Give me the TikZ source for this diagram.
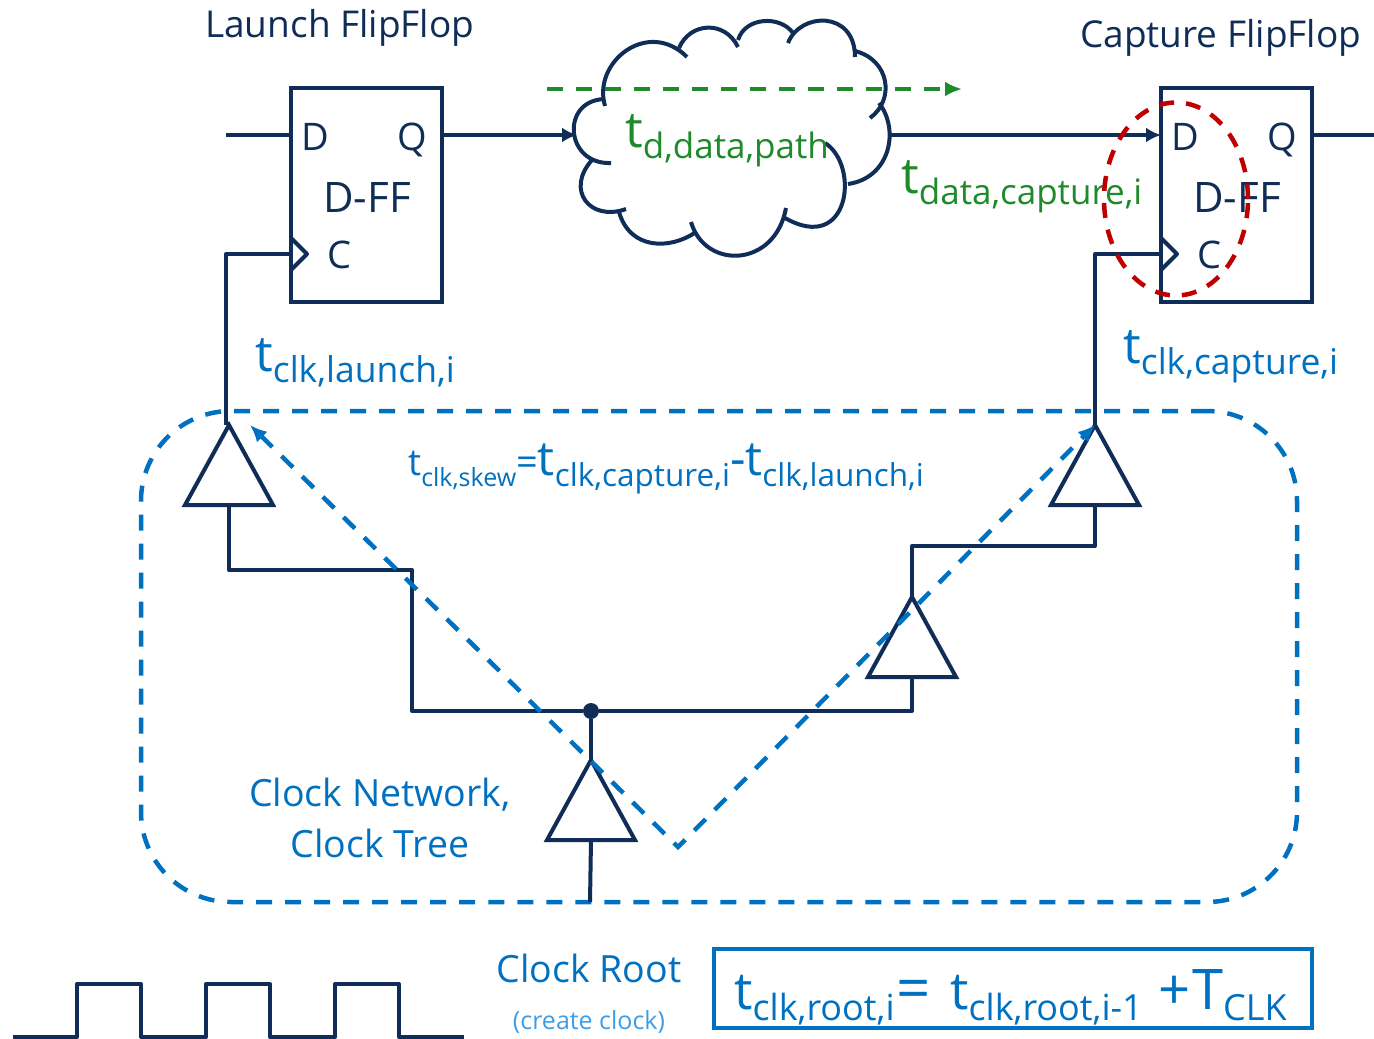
\documentclass[tikz,border=0pt]{standalone}
\usepackage{fontspec}
\setmainfont{Open Sans}
\usetikzlibrary{arrows.meta,shapes.geometric}
\definecolor{navy}{HTML}{0F2D56}
\definecolor{clkblue}{HTML}{0070C0}
\definecolor{datagreen}{HTML}{1E8A2A}
\definecolor{ringred}{HTML}{C00000}
\definecolor{paleblue}{HTML}{3C9DE8}
\newcommand{\fs}[1]{\fontsize{#1}{#1}\selectfont}
\newcommand{\tlab}[3]{{\fs{#1}t}{\fs{#2}\raisebox{-11pt}{#3}}}
\begin{document}
\begin{tikzpicture}[x=1pt,y=-1pt,%
% common options for lines:
wire/.style = {draw=navy, line width=4pt, line join=round},
arrowed/.style = {wire, -{Latex[length=15pt,width=15pt]}},
skewline/.style = {draw=clkblue, line width=4.5pt, dash pattern=on 16pt off 13pt},
% common options for blocks:
flop/.style = {draw=navy, line width=4pt, minimum width=151pt, minimum height=214pt, anchor=north west, inner sep=0, outer sep=0},
buffer/.style = {draw=navy, line width=4pt, isosceles triangle, shape border rotate=90, isosceles triangle stretches,
            minimum width=88pt, minimum height=80pt, anchor=apex, inner sep=0, outer sep=0},
% common options for the texts:
pin/.style = {text=navy, anchor=base west, inner sep=0, font=\fs{38}},
head/.style = {text=navy, anchor=base west, inner sep=0, font=\fs{37}},
clktext/.style = {text=clkblue, anchor=base west, inner sep=0},
datatext/.style = {text=datagreen, anchor=base west, inner sep=0}]
\useasboundingbox (0,0) rectangle (1374,1039);
% clock network frame
\node[skewline, rounded corners=90pt, minimum width=1156pt, minimum height=491pt, anchor=north west, inner sep=0, outer sep=0] (NET) at (141,411) {};
% flipflops
\node[flop] (FF1) at (291,88) {};
\node[flop] (FF2) at (1161,88) {};
\node[head] (H1) at (205,37) {Launch FlipFlop};
\node[head] (H2) at (1080,47) {Capture FlipFlop};
\node[pin] (D1) at (301,150) {D};
\node[pin] (Q1) at (397,150) {Q};
\node[pin, font=\fs{42}] (F1) at (323,212) {D-FF};
\node[pin] (C1) at (327,268) {C};
\node[pin] (D2) at (1171,150) {D};
\node[pin] (Q2) at (1267,150) {Q};
\node[pin, font=\fs{42}] (F2) at (1193,212) {D-FF};
\node[pin] (C2) at (1197,268) {C};
\coordinate (D1in) at (291,135);
\coordinate (Q1out) at (442,135);
\coordinate (C1in) at (291,254);
\coordinate (D2in) at (1161,135);
\coordinate (Q2out) at (1312,135);
\coordinate (C2in) at (1161,254);
% clock pins
\draw[wire] (291,238) -- (307,254) -- (291,270);
\draw[wire] (1161,238) -- (1177,254) -- (1161,270);
% cloud
\draw[wire] (605,106) .. controls (592,62) and (648,18) .. (687,57);
\draw[wire] (679,48) .. controls (690,22) and (725,20) .. (738,47);
\draw[wire] (738,40) .. controls (745,17) and (780,15) .. (793,33);
\draw[wire] (788,43) .. controls (800,12) and (855,10) .. (855,57);
\draw[wire] (855,51) .. controls (890,60) and (895,100) .. (870,118);
\draw[wire] (879,103) .. controls (900,130) and (890,178) .. (848,184);
\draw[wire] (825,143) .. controls (860,165) and (850,255) .. (785,218);
\draw[wire] (786,208) .. controls (775,268) and (705,270) .. (691,222);
\draw[wire] (696,232) .. controls (670,250) and (630,250) .. (619,212);
\draw[wire] (626,209) .. controls (590,222) and (565,190) .. (592,160);
\draw[wire] (611,163) .. controls (565,165) and (560,100) .. (605,99);
\coordinate (CLw) at (577,135);
\coordinate (CLe) at (891,135);
% data wires
\coordinate (DIN) at (226,135);
\coordinate (DOUT) at (1374,135);
\draw[wire] (DIN) -- (D1in);
\draw[arrowed] (Q1out) -- (CLw);
\draw[arrowed] (CLe) -- (D2in);
\draw[wire] (Q2out) -- (DOUT);
% buffers
\node[buffer] (B1) at (229,425) {};
\node[buffer] (B2) at (1095,425) {};
\node[buffer] (B3) at (912,597) {};
\node[buffer] (B4) at (591,760) {};
\node[circle, fill=navy, minimum size=16pt, inner sep=0] (J) at (591,711) {};
\coordinate (ROOT) at (590,902);
\coordinate (N1) at (226,425);
% clock wires
\draw[wire] (C1in) -- (226,254) -- (N1);
\draw[wire] (C2in) -- (1095,254) -- (B2.apex);
\draw[wire] (B1.lower side) -- (229,570) -- (412,570) -- (412,711) -- (J);
\draw[wire] (J) -- (912,711) -- (B3.lower side);
\draw[wire] (B3.apex) -- (912,546) -- (1095,546) -- (B2.lower side);
\draw[wire] (J) -- (B4.apex);
\draw[wire] (B4.lower side) -- (ROOT);
% paths
\coordinate (GA) at (547,89);
\coordinate (GB) at (962,89);
\draw[draw=datagreen, line width=4.5pt, dash pattern=on 16pt off 13pt, -{Latex[length=17pt,width=15pt]}] (GA) -- (GB);
\coordinate (V0) at (250,425);
\coordinate (V1) at (678,847);
\coordinate (V2) at (1095,425);
\draw[skewline, {Latex[length=17pt,width=15pt]}-{Latex[length=17pt,width=15pt]}] (V0) -- (V1) -- (V2);
% labels
\node[datatext] (T1) at (625,147) {\tlab{50}{35}{d,data,path}};
\node[datatext] (T2) at (901,193) {\tlab{50}{35}{data,capture,i}};
\node[clktext] (T3) at (255,371) {\tlab{50}{35.5}{clk,launch,i}};
\node[clktext] (T4) at (1123,363) {\tlab{50}{35.5}{clk,capture,i}};
\node[clktext] (T5) at (408,475) {\tlab{37}{25}{clk,skew}{\fs{38}=}\tlab{48}{31.5}{clk,capture,i}{\fs{48}-}\tlab{48}{31.5}{clk,launch,i}};
\node[clktext, font=\fs{37.5}, anchor=base] (L1) at (380,806) {Clock Network,};
\node[clktext, font=\fs{37.5}, anchor=base] (L2) at (380,857) {Clock Tree};
\node[clktext, font=\fs{37.5}, anchor=base] (L3) at (589,982) {Clock Root};
\node[text=paleblue, font=\fs{25}, anchor=base, inner sep=0] (L4) at (589,1029) {(create clock)};
% root clock
\coordinate (W0) at (13,1037);
\coordinate (W1) at (464,1037);
\draw[wire] (W0) -- (77,1037) -- (77,984) -- (141,984) -- (141,1037) -- (206,1037) -- (206,984) -- (270,984)
  -- (270,1037) -- (335,1037) -- (335,984) -- (399,984) -- (399,1037) -- (W1);
\node[draw=clkblue, line width=4pt, minimum width=598pt, minimum height=79pt, anchor=north west, inner sep=0, outer sep=0] (R) at (714,949) {};
\node[clktext] (T6) at (734,1009) {\tlab{52}{36}{clk,root,i}\hspace{2pt}{\fs{60}=}};
\node[clktext] (T7) at (950,1009) {\tlab{52}{36}{clk,root,i-1}};
\node[clktext] (T8) at (1158,1009) {{\fs{56}+}\hspace{2pt}{\fs{56}T}{\fs{36}\raisebox{-11pt}{CLK}}};
% ring at the capture flop
\node[ellipse, draw=ringred, line width=4.5pt, dash pattern=on 15pt off 12pt, minimum width=144pt, minimum height=193pt, inner sep=0, outer sep=0] (RING) at (1176,199) {};
\end{tikzpicture}
\end{document}
